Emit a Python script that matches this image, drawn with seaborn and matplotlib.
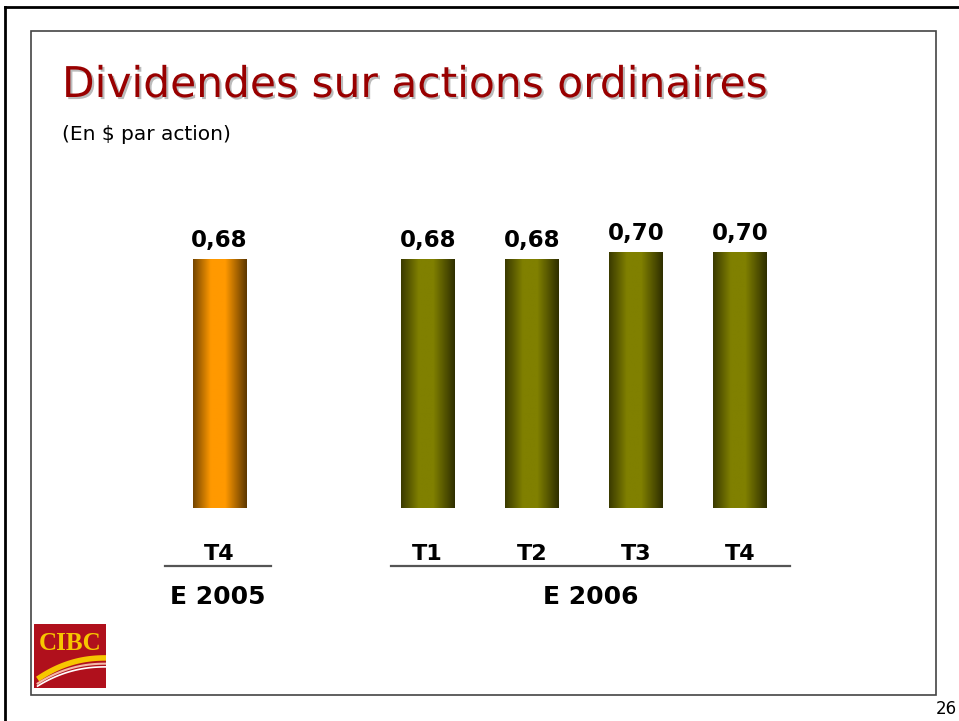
import numpy as np
import pandas as pd
import matplotlib
matplotlib.use("Agg")
import matplotlib.pyplot as plt
import seaborn as sns
from matplotlib.colors import LinearSegmentedColormap, to_rgb
from matplotlib.patches import Rectangle
from matplotlib.lines import Line2D
import matplotlib.patheffects as pe
import matplotlib.transforms as mtransforms

# ---- data ----
quarters = ["T4", "T1", "T2", "T3", "T4"]
years = ["E 2005", "E 2006", "E 2006", "E 2006", "E 2006"]
dividends = [0.68, 0.68, 0.68, 0.70, 0.70]
year_labels = ["E 2005", "E 2006"]
title = "Dividendes sur actions ordinaires"
subtitle = "(En $ par action)"
year_colors = {"E 2005": "#ff9900", "E 2006": "#808000"}

df = pd.DataFrame({"quarter": quarters, "year": years, "value": dividends})
df["key"] = df["year"] + " " + df["quarter"]
keys = list(df["key"])
order = [keys[0], "_gap"] + keys[1:]
tick_labels = [quarters[0], ""] + quarters[1:]

W, H = 959, 721
fig = plt.figure(figsize=(W / 100, H / 100), dpi=100)
fig.patch.set_facecolor("white")

ax_left, ax_right = 167.5, 792.0
base_y, top_y = 508.0, 142.0
ax = fig.add_axes([ax_left / W, (H - base_y) / H, (ax_right - ax_left) / W, (base_y - top_y) / H])

sns.barplot(data=df, x="key", y="value", hue="year", palette=year_colors,
            order=order, dodge=False, width=0.51, legend=False, ax=ax,
            saturation=1, edgecolor="none")

# gradient overlay on each bar (cylinder look)
def grad_cmap(c):
    c = np.array(to_rgb(c))
    stops = [(0.0, c * 0.45), (0.33, c), (0.6, c), (1.0, c * 0.36)]
    return LinearSegmentedColormap.from_list("g", [(p, tuple(v)) for p, v in stops])

grad = np.linspace(0, 1, 256).reshape(1, -1)
for p in list(ax.patches):
    h = p.get_height()
    if not np.isfinite(h) or h <= 0:
        continue
    x0, w = p.get_x(), p.get_width()
    im = ax.imshow(grad, extent=[x0, x0 + w, 0, h], aspect="auto",
                   cmap=grad_cmap(p.get_facecolor()), zorder=p.get_zorder() + 0.1,
                   interpolation="bilinear")
    im.set_clip_path(p)

ax.set_xlim(-0.5, len(order) - 0.5)
ax.set_ylim(0, 1.0)

# value labels
for k, v in zip(keys, dividends):
    ax.annotate(f"{v:.2f}".replace(".", ","), (order.index(k), v),
                xytext=(0, 5), textcoords="offset points",
                ha="center", va="bottom", fontsize=16.5, fontweight="bold",
                color="black")

ax.set_xticks(range(len(order)))
ax.set_xticklabels(tick_labels, fontsize=16, fontweight="bold")
ax.tick_params(axis="x", length=0, pad=26)
ax.set_yticks([])
ax.set_xlabel("")
ax.set_ylabel("")
for s in ax.spines.values():
    s.set_visible(False)
ax.set_facecolor("none")

# group underlines and year labels
trans = mtransforms.blended_transform_factory(ax.transData, ax.transAxes)
line_y = (base_y - 566) / (base_y - top_y)
year_y = (base_y - 597) / (base_y - top_y)
spans = {"E 2005": (-0.52, 0.49), "E 2006": (1.65, 5.48)}
for yl in year_labels:
    a, b = spans[yl]
    ax.add_line(Line2D([a, b], [line_y, line_y], transform=trans, color="#555555",
                       lw=1.6, clip_on=False))
    ax.text((a + b) / 2, year_y, yl, transform=trans, ha="center", va="center",
            fontsize=18, fontweight="bold", color="black", clip_on=False)

# title & subtitle
fig.text(62 / W, 1 - 97 / H, title, fontsize=30.5, color="#990000",
         ha="left", va="baseline",
         path_effects=[pe.withSimplePatchShadow(offset=(1.5, -1.5), shadow_rgbFace="#aaaaaa", alpha=0.8)])
fig.text(62 / W, 1 - 134 / H, subtitle, fontsize=14.5, color="black",
         ha="left", va="center")

# slide frames
fig.add_artist(Line2D([5 / W, 5 / W], [0, 1 - 7 / H], transform=fig.transFigure, color="black", lw=2))
fig.add_artist(Line2D([5 / W, 1], [1 - 7 / H, 1 - 7 / H], transform=fig.transFigure, color="black", lw=2))
fig.add_artist(Rectangle((31 / W, 1 - 695 / H), (936 - 31) / W, (695 - 31) / H,
                         transform=fig.transFigure, fill=False, edgecolor="#444444", lw=1.2))
fig.text(957 / W, 1 - 709 / H, "26", fontsize=12, ha="right", va="center", color="black")

# CIBC logo
lax = fig.add_axes([34 / W, 1 - 688 / H, 72 / W, 64 / H])
lax.set_xlim(0, 1)
lax.set_ylim(0, 1)
lax.axis("off")
lax.add_patch(Rectangle((0, 0), 1, 1, color="#b0101c"))
lax.text(0.5, 0.70, "CIBC", color="#f7c600", fontsize=18, fontweight="bold",
         family="Liberation Serif", ha="center", va="center")
xs = np.linspace(0.05, 1.0, 100)
def curve(x, y0, y1):
    t = (x - 0.05) / 0.95
    return y0 + (y1 - y0) * (1 - (1 - t) ** 2.2)
lax.plot(xs, curve(xs, 0.14, 0.47), color="#f7c600", lw=4, solid_capstyle="butt")
lax.plot(xs, curve(xs, 0.07, 0.38), color="#f4b8a8", lw=1.5)
lax.plot(xs, curve(xs, 0.03, 0.33), color="white", lw=1.2)

fig.savefig("out.png", dpi=100, facecolor="white")
